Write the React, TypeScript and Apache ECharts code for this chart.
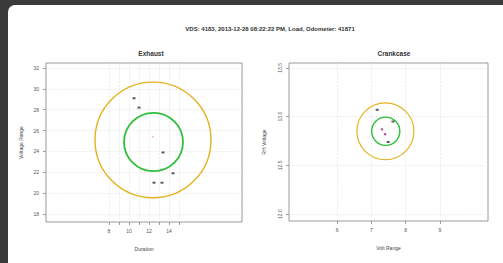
import React, { useEffect, useRef } from "react";
import * as echarts from "echarts";

const mainTitle = "VDS: 4183, 2013-12-28 08:22:22 PM, Load, Odometer: 41871";
const panelTitles = ["Exhaust", "Crankcase"];

// Exhaust panel
const exhaustXTicks = [8, 9, 10, 11, 12, 13, 14, 15];
const exhaustXLabels = [8, 10, 12, 14];
const exhaustYTicks = [18, 20, 22, 24, 26, 28, 30, 32];
const exhaustPoints = [
  [10.5, 29.1],
  [11.0, 28.2],
  [13.4, 23.9],
  [14.4, 21.9],
  [12.5, 21.0],
  [13.3, 21.0],
];
const exhaustCenter = [[12.4, 25.4]];
// [cx, cy, rx, ry]
const exhaustOuter = [12.4, 25.1, 5.8, 5.55];
const exhaustInner = [12.45, 24.9, 2.95, 2.8];

// Crankcase panel
const crankXTicks = [6, 7, 8, 9];
const crankYTicks = [12.0, 12.5, 13.0, 13.5];
const crankPoints = [
  [7.17, 13.07],
  [7.63, 12.95],
  [7.49, 12.74],
];
const crankPinkPoints = [
  [7.31, 12.87],
  [7.4, 12.82],
];
const crankOuter = [7.41, 12.85, 0.83, 0.292];
const crankInner = [7.42, 12.85, 0.41, 0.145];

const circleSeries = (circle: number[], idx: number, color: string, width: number) => ({
  type: "custom",
  xAxisIndex: idx,
  yAxisIndex: idx,
  data: [circle],
  encode: { x: 0, y: 1 },
  silent: true,
  renderItem: (_params: any, api: any) => {
    const c = api.coord([api.value(0), api.value(1)]);
    const s = api.size([api.value(2), api.value(3)]);
    return {
      type: "ellipse",
      shape: { cx: c[0], cy: c[1], rx: s[0], ry: s[1] },
      style: { fill: "none", stroke: color, lineWidth: width },
    };
  },
});

export default function App() {
  const ref = useRef<HTMLDivElement>(null);
  useEffect(() => {
    if (!ref.current) return;
    const chart = echarts.init(ref.current, undefined, { renderer: "svg" });
    const labelStyle = { color: "#555", fontSize: 5, fontFamily: "Liberation Sans" };
    const tick = { show: true, length: 3, lineStyle: { color: "#777", width: 0.7 } };
    const split = { show: true, lineStyle: { color: "#e4e4e4", type: "dashed", width: 0.6 } };
    const nameStyle = { color: "#444", fontSize: 5, fontFamily: "Liberation Sans" };
    chart.setOption({
      animation: false,
      title: [
        {
          text: mainTitle,
          left: 265,
          top: 21,
          textAlign: "center",
          textStyle: { fontSize: 6, fontWeight: "bold", color: "#333", fontFamily: "Liberation Sans" },
        },
        {
          text: panelTitles[0],
          left: 146,
          top: 45,
          textAlign: "center",
          textStyle: { fontSize: 6.5, fontWeight: "bold", color: "#333", fontFamily: "Liberation Sans" },
        },
        {
          text: panelTitles[1],
          left: 389,
          top: 45,
          textAlign: "center",
          textStyle: { fontSize: 6.5, fontWeight: "bold", color: "#333", fontFamily: "Liberation Sans" },
        },
      ],
      grid: [
        { left: 46, top: 63, width: 196, height: 159, show: true, borderColor: "#999", borderWidth: 1, containLabel: false },
        { left: 289, top: 63, width: 199, height: 158, show: true, borderColor: "#999", borderWidth: 1, containLabel: false },
      ],
      xAxis: [
        {
          type: "value",
          gridIndex: 0,
          min: 1.7,
          max: 21.3,
          axisLine: { show: false },
          axisTick: { ...tick, customValues: exhaustXTicks },
          axisLabel: { ...labelStyle, margin: 6, customValues: exhaustXLabels },
          splitLine: split,
          name: "Duration",
          nameLocation: "middle",
          nameGap: 24,
          nameTextStyle: nameStyle,
        },
        {
          type: "value",
          gridIndex: 1,
          min: 4.6,
          max: 10.4,
          axisLine: { show: false },
          axisTick: { ...tick, customValues: crankXTicks },
          axisLabel: { ...labelStyle, margin: 6, customValues: crankXTicks },
          splitLine: split,
          name: "Volt Range",
          nameLocation: "middle",
          nameGap: 24,
          nameTextStyle: nameStyle,
        },
      ],
      yAxis: [
        {
          type: "value",
          gridIndex: 0,
          min: 17.23,
          max: 32.48,
          axisLine: { show: false },
          axisTick: { ...tick, customValues: exhaustYTicks },
          axisLabel: { ...labelStyle, margin: 7, customValues: exhaustYTicks },
          splitLine: split,
          name: "Voltage Range",
          nameLocation: "middle",
          nameGap: 23,
          nameTextStyle: nameStyle,
        },
        {
          type: "value",
          gridIndex: 1,
          min: 11.93,
          max: 13.55,
          axisLine: { show: false },
          axisTick: { ...tick, customValues: crankYTicks },
          axisLabel: {
            ...labelStyle,
            margin: 7,
            rotate: 90,
            customValues: crankYTicks,
            formatter: (v: number) => v.toFixed(1),
          },
          splitLine: split,
          name: "RH Voltage",
          nameLocation: "middle",
          nameGap: 23,
          nameTextStyle: nameStyle,
        },
      ],
      series: [
        circleSeries(exhaustOuter, 0, "#e3b21c", 1.4),
        circleSeries(exhaustInner, 0, "#2fbf3a", 1.8),
        circleSeries(crankOuter, 1, "#e3b21c", 1.2),
        circleSeries(crankInner, 1, "#2fbf3a", 1.4),
        {
          type: "scatter",
          xAxisIndex: 0,
          yAxisIndex: 0,
          data: exhaustPoints,
          symbol: "rect",
          symbolSize: [3, 2],
          itemStyle: { color: "#333" },
        },
        {
          type: "scatter",
          xAxisIndex: 0,
          yAxisIndex: 0,
          data: exhaustCenter,
          symbolSize: 2,
          itemStyle: { color: "#f0a8e8" },
        },
        {
          type: "scatter",
          xAxisIndex: 1,
          yAxisIndex: 1,
          data: crankPoints,
          symbol: "rect",
          symbolSize: [3, 2],
          itemStyle: { color: "#333" },
        },
        {
          type: "scatter",
          xAxisIndex: 1,
          yAxisIndex: 1,
          data: crankPinkPoints,
          symbolSize: 2.5,
          itemStyle: { color: "#a0307a" },
        },
      ],
    });
    return () => chart.dispose();
  }, []);

  return (
    <div style={{ position: "fixed", left: 0, top: 0, width: 503, height: 263, background: "#3a3a3a" }}>
      <div
        style={{
          position: "absolute",
          left: 8,
          top: 5,
          width: 495,
          height: 258,
          background: "#fff",
          borderTopLeftRadius: 7,
        }}
      />
      <div ref={ref} style={{ position: "absolute", left: 0, top: 0, width: 503, height: 263 }} />
    </div>
  );
}
